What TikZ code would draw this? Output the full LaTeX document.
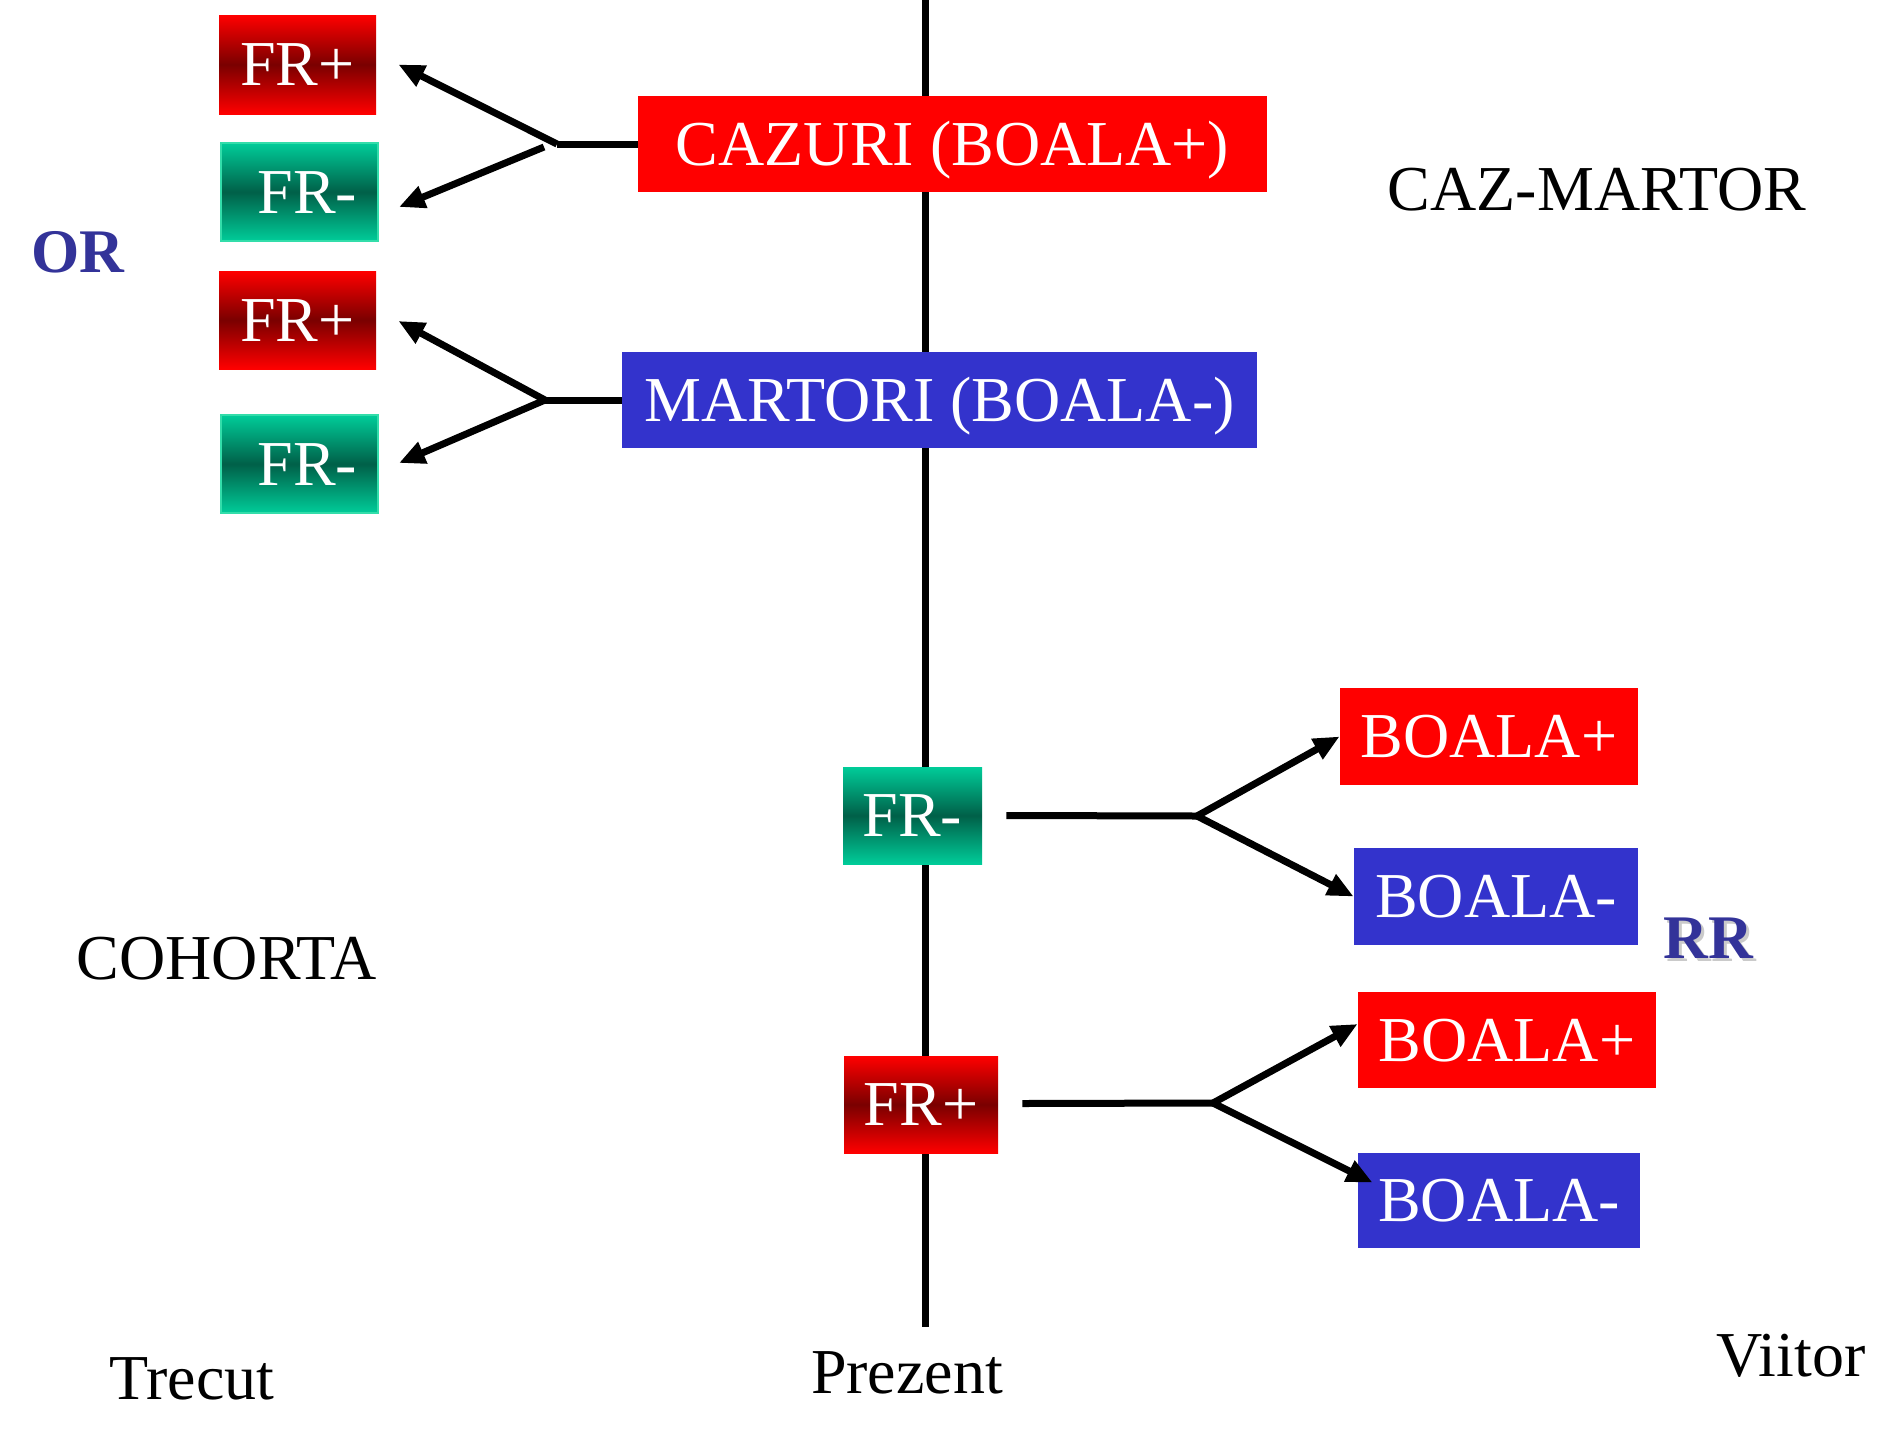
\documentclass[tikz,border=0pt]{standalone}
\usepackage{fontspec}
\setmainfont{Liberation Serif}
\usetikzlibrary{arrows.meta,calc}

\definecolor{boxred}{RGB}{255,0,0}
\definecolor{deepred}{RGB}{122,0,0}
\definecolor{boxblue}{RGB}{51,51,204}
\definecolor{lightgreen}{RGB}{0,204,153}
\definecolor{deepgreen}{RGB}{0,96,72}
\definecolor{greenedge}{RGB}{51,221,170}
\definecolor{labelblue}{RGB}{51,51,153}

\tikzset{
  box/.style={rectangle, inner sep=0pt, text=white, text height=21pt, text depth=0pt,
              font=\fontsize{32}{32}\selectfont},
  redbox/.style={box, fill=boxred},
  bluebox/.style={box, fill=boxblue},
  frplus/.style={box, top color=boxred, bottom color=boxred, middle color=deepred},
  frminus/.style={box, top color=lightgreen, bottom color=lightgreen, middle color=deepgreen},
  edged/.style={draw=greenedge, line width=1pt},
  conn/.style={line width=3.5pt},
  arr/.style={line width=3.5pt, -{Triangle[length=13pt,width=11pt]}},
  lbl/.style={anchor=base, inner sep=0pt, font=\fontsize{32}{32}\selectfont},
  ratio/.style={anchor=base, inner sep=0pt, font=\fontsize{31}{31}\selectfont\bfseries, text=labelblue},
}

\begin{document}
\begin{tikzpicture}[x=0.5pt,y=-0.5pt]
\useasboundingbox (0,0) rectangle (1883,1440);

% time axis
\coordinate (ttop) at (925,0);
\coordinate (tbot) at (925,1327);
\draw[line width=3.5pt] (ttop) -- (tbot);

% case-control part
\node[redbox, minimum width=314.5pt, minimum height=48pt] (caz) at (952.5,144) {CAZURI (BOALA+)};
\node[bluebox, minimum width=317.5pt, minimum height=48pt] (mar) at (939.5,400) {MARTORI (BOALA-)};

\node[frplus, minimum width=78.5pt, minimum height=49.5pt] (fr1) at (297.5,64.5) {FR+};
\node[frminus, edged, minimum width=78.5pt, minimum height=49pt] (fr2) at (299.5,192) {\hspace{8pt}FR-};
\node[frplus, minimum width=78.5pt, minimum height=49pt] (fr3) at (297.5,320) {FR+};
\node[frminus, edged, minimum width=78.5pt, minimum height=49pt] (fr4) at (299.5,464) {\hspace{8pt}FR-};

% cohort part
\node[frminus, minimum width=69.5pt, minimum height=48.5pt] (frm) at (912.5,815.5) {FR-};
\node[frplus, minimum width=77pt, minimum height=48.5pt] (frp) at (921,1104.5) {FR+};

\node[redbox, minimum width=149pt, minimum height=48.5pt] (bp1) at (1489,736.5) {BOALA+};
\node[bluebox, minimum width=142pt, minimum height=48.5pt] (bm1) at (1496,896.5) {BOALA-};
\node[redbox, minimum width=149pt, minimum height=48pt] (bp2) at (1507,1040) {BOALA+};
\node[bluebox, minimum width=141pt, minimum height=47.5pt] (bm2) at (1499,1200.5) {BOALA-};

% connectors from cases and controls back to exposure
\coordinate (j1) at (557,144);
\coordinate (j1b) at (544,147);
\draw[conn] (caz.west) -- (j1);
\draw[arr] (j1) -- ($(fr1.east)+(22,0)$);
\draw[arr] (j1b) -- ($(fr2.east)+(20,15)$);

\coordinate (j2) at (545,400);
\draw[conn] (mar.west) -- (j2);
\draw[arr] (j2) -- ($(fr3.east)+(22,1)$);
\draw[arr] (j2) -- ($(fr4.east)+(20,-1)$);

% connectors from exposure forward to outcome
\coordinate (j3) at (1197,816);
\draw[conn] ($(frm.east)+(24,0)$) -- (j3);
\draw[arr] (j3) -- (bp1.west);
\draw[arr] (j3) -- (bm1.west);

\coordinate (j4) at (1213,1103);
\draw[conn] ($(frp.east)+(24,-1)$) -- (j4);
\draw[arr] (j4) -- ($(bp2.west)+(0,-16)$);
\draw[arr] (j4) -- ($(bm2.north west)+(15,30)$);

% labels
\node[ratio] (or) at (78,272) {OR};
\node[ratio, text=black!35, opacity=0.6] (rrs) at (1711,961) {RR};
\node[ratio] (rr) at (1708,958) {RR};
\node[lbl] (cm) at (1597,210) {CAZ-MARTOR};
\node[lbl] (coh) at (227,979) {COHORTA};
\node[lbl] (past) at (192,1399) {Trecut};
\node[lbl] (now) at (907,1393) {Prezent};
\node[lbl] (fut) at (1791,1376) {Viitor};
\end{tikzpicture}
\end{document}
